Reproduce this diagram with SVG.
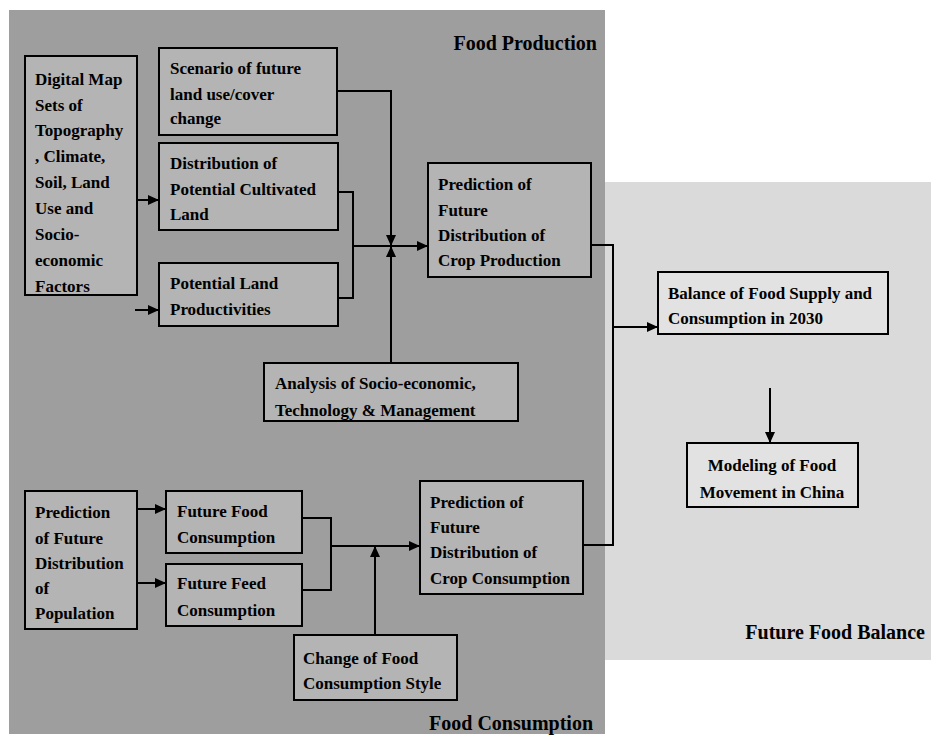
<svg xmlns="http://www.w3.org/2000/svg" width="931" height="741" viewBox="0 0 931 741">
<defs>
<style>
.t{font-family:"Liberation Serif","Times New Roman",serif;font-weight:bold;font-size:17px;fill:#000}
.h{font-family:"Liberation Serif","Times New Roman",serif;font-weight:bold;font-size:20px;fill:#000}
.b{fill:#b4b4b4;stroke:#000;stroke-width:2}
.br{fill:#e2e2e2;stroke:#000;stroke-width:2}
.c{fill:none;stroke:#000;stroke-width:2}
</style>
<marker id="ah" markerUnits="userSpaceOnUse" markerWidth="11" markerHeight="10" refX="11" refY="5" orient="auto">
<path d="M0,0 L11,5 L0,10 z" fill="#000"/>
</marker>
</defs>
<rect width="931" height="741" fill="#fff"/>
<g id="region-production-consumption">
<rect x="9" y="10" width="596" height="724" fill="#9e9e9e"/>
<text class="h" x="597" y="50" text-anchor="end">Food Production</text>
<text class="h" x="593" y="730" text-anchor="end">Food Consumption</text>
</g>
<g id="region-balance">
<rect x="605" y="182" width="326" height="478" fill="#dadada"/>
<text class="h" x="925" y="639" text-anchor="end">Future Food Balance</text>
</g>
<g id="connectors">
<path class="c" d="M137,200 H159" marker-end="url(#ah)"/>
<path class="c" d="M135,310 H159" marker-end="url(#ah)"/>
<path class="c" d="M337,91 H391 V246" marker-end="url(#ah)"/>
<path class="c" d="M338,192 H353 V298 H338"/>
<path class="c" d="M353,246 H428" marker-end="url(#ah)"/>
<path class="c" d="M391,363 V246" marker-end="url(#ah)"/>
<path class="c" d="M591,245 H613 V545 H583"/>
<path class="c" d="M613,327 H658" marker-end="url(#ah)"/>
<path class="c" d="M770,388 V443" marker-end="url(#ah)"/>
<path class="c" d="M137,509 H166" marker-end="url(#ah)"/>
<path class="c" d="M137,583 H166" marker-end="url(#ah)"/>
<path class="c" d="M302,518 H331 V590 H302"/>
<path class="c" d="M331,546 H420" marker-end="url(#ah)"/>
<path class="c" d="M375,635 V546" marker-end="url(#ah)"/>
</g>
<g id="digital-map">
<rect class="b" x="25" y="56" width="112" height="239"/>
<text class="t" x="35" y="85">Digital Map</text>
<text class="t" x="35" y="111">Sets of</text>
<text class="t" x="35" y="136">Topography</text>
<text class="t" x="35" y="162">, Climate,</text>
<text class="t" x="35" y="188">Soil, Land</text>
<text class="t" x="35" y="214">Use and</text>
<text class="t" x="35" y="240">Socio-</text>
<text class="t" x="35" y="266">economic</text>
<text class="t" x="35" y="292">Factors</text>
</g>
<g id="scenario">
<rect class="b" x="159" y="48" width="178" height="87"/>
<text class="t" x="170" y="74">Scenario of future</text>
<text class="t" x="170" y="100">land use/cover</text>
<text class="t" x="170" y="124">change</text>
</g>
<g id="distribution-land">
<rect class="b" x="159" y="143" width="179" height="87"/>
<text class="t" x="170" y="169">Distribution of</text>
<text class="t" x="170" y="195">Potential Cultivated</text>
<text class="t" x="170" y="220">Land</text>
</g>
<g id="potential-productivities">
<rect class="b" x="159" y="263" width="179" height="63"/>
<text class="t" x="170" y="289">Potential Land</text>
<text class="t" x="170" y="315">Productivities</text>
</g>
<g id="crop-production">
<rect class="b" x="428" y="163" width="163" height="114"/>
<text class="t" x="438" y="190">Prediction of</text>
<text class="t" x="438" y="216">Future</text>
<text class="t" x="438" y="241">Distribution of</text>
<text class="t" x="438" y="266">Crop Production</text>
</g>
<g id="analysis">
<rect class="b" x="264" y="363" width="254" height="58"/>
<text class="t" x="275" y="389">Analysis of Socio-economic,</text>
<text class="t" x="275" y="416">Technology &amp; Management</text>
</g>
<g id="balance">
<rect class="br" x="658" y="272" width="230" height="62"/>
<text class="t" x="668" y="299">Balance of Food Supply and</text>
<text class="t" x="668" y="324">Consumption in 2030</text>
</g>
<g id="modeling">
<rect class="br" x="687" y="443" width="171" height="64"/>
<text class="t" x="772" y="471" text-anchor="middle">Modeling of Food</text>
<text class="t" x="772" y="498" text-anchor="middle">Movement in China</text>
</g>
<g id="population">
<rect class="b" x="25" y="491" width="112" height="138"/>
<text class="t" x="35" y="518">Prediction</text>
<text class="t" x="35" y="544">of Future</text>
<text class="t" x="35" y="569">Distribution</text>
<text class="t" x="35" y="594">of</text>
<text class="t" x="35" y="619">Population</text>
</g>
<g id="food-consumption">
<rect class="b" x="166" y="491" width="136" height="62"/>
<text class="t" x="177" y="517">Future Food</text>
<text class="t" x="177" y="543">Consumption</text>
</g>
<g id="feed-consumption">
<rect class="b" x="166" y="564" width="136" height="62"/>
<text class="t" x="177" y="589">Future Feed</text>
<text class="t" x="177" y="616">Consumption</text>
</g>
<g id="change-style">
<rect class="b" x="294" y="635" width="163" height="65"/>
<text class="t" x="303" y="664">Change of Food</text>
<text class="t" x="303" y="689">Consumption Style</text>
</g>
<g id="crop-consumption">
<rect class="b" x="420" y="481" width="163" height="113"/>
<text class="t" x="430" y="508">Prediction of</text>
<text class="t" x="430" y="533">Future</text>
<text class="t" x="430" y="558">Distribution of</text>
<text class="t" x="430" y="584">Crop Consumption</text>
</g>
</svg>
